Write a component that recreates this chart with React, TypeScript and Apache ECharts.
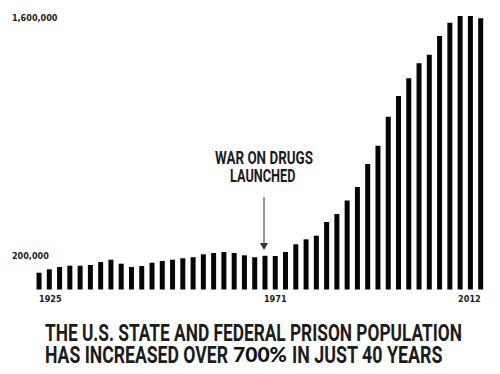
import React, { useEffect, useRef } from "react";
import * as echarts from "echarts";

// ---- data ----
const years: string[] = [
  "1925", "1927", "1929", "1931", "1933", "1935", "1937", "1939", "1941", "1943",
  "1945", "1947", "1949", "1951", "1953", "1955", "1957", "1959", "1961", "1963",
  "1965", "1967", "1969", "1971", "1973", "1975", "1977", "1979", "1981", "1983",
  "1985", "1987", "1989", "1991", "1993", "1995", "1997", "1999", "2001", "2003",
  "2005", "2007", "2009", "2012",
];
const population: number[] = [
  99000, 119000, 132600, 140300, 140300, 144400, 162000, 175600, 152000, 132600,
  138500, 157900, 168000, 175600, 183900, 190300, 207400, 215100, 221000, 215100,
  201500, 190300, 198600, 197400, 221000, 266400, 295800, 317000, 397800, 444900,
  524500, 604000, 739600, 847400, 1018300, 1140300, 1244600, 1333000, 1383700, 1493900,
  1572300, 1611700, 1611700, 1598200,
];
const yTickLabels: number[] = [200000, 1600000];
const xTickLabels: string[] = ["1925", "1971", "2012"];
const titleLine1 = "THE U.S. STATE AND FEDERAL PRISON POPULATION";
const titleLine2a = "HAS INCREASED OVER";
const titleLine2b = "700%";
const titleLine2c = "IN JUST 40 YEARS";
const noteLine1 = "WAR ON DRUGS";
const noteLine2 = "LAUNCHED";

const CONDENSED = "Roboto";
const NARROW = "'Liberation Sans Narrow', 'DejaVu Sans Condensed', 'Roboto Condensed', Roboto, sans-serif";
const INK = "#1c1c1c";

function measure(text: string, font: string): number {
  const c = document.createElement("canvas");
  const ctx = c.getContext("2d")!;
  ctx.font = font;
  return ctx.measureText(text).width;
}

function fitText(
  text: string,
  family: string,
  weight: string,
  size: number,
  left: number,
  right: number,
  cy: number,
  color: string
) {
  const w = measure(text, `${weight} ${size}px ${family}`);
  const sx = w > 0 ? (right - left) / w : 1;
  return {
    type: "text",
    x: left,
    y: cy,
    scaleX: sx,
    style: {
      text,
      fontFamily: family,
      fontWeight: weight,
      fontSize: size,
      fill: color,
      align: "left",
      verticalAlign: "middle",
    },
  };
}

export default function App() {
  const ref = useRef<HTMLDivElement>(null);

  useEffect(() => {
    if (!ref.current) return;
    const chart = echarts.init(ref.current, undefined, { renderer: "svg" });

    const graphic: any[] = [
      fitText(noteLine1, CONDENSED, "bold", 19, 215, 313, 157.5, INK),
      fitText(noteLine2, CONDENSED, "bold", 19, 230, 295.5, 175.5, INK),
      {
        type: "line",
        shape: { x1: 264, y1: 197, x2: 264, y2: 244 },
        style: { stroke: "#333", lineWidth: 1 },
      },
      {
        type: "polygon",
        shape: { points: [[260, 243], [268, 243], [264, 250]] },
        style: { fill: "#333" },
      },
      fitText(titleLine1, CONDENSED, "bold", 24, 45, 462, 333, INK),
      fitText(titleLine2a, CONDENSED, "bold", 24, 45, 228, 354, INK),
      fitText(titleLine2b, "Lato", "900", 21, 233, 287, 354, "#111"),
      fitText(titleLine2c, CONDENSED, "bold", 24, 292, 443, 354, INK),
    ];

    chart.setOption({
      animation: false,
      backgroundColor: "#ffffff",
      grid: { left: 33.9, right: 14.2, top: 9.5, bottom: 84.5, containLabel: false },
      xAxis: {
        type: "category",
        data: years,
        axisLine: { show: false },
        axisTick: { show: false },
        splitLine: { show: false },
        axisLabel: {
          interval: (_i: number, v: string) => xTickLabels.includes(v),
          formatter: (v: string) => (xTickLabels.includes(v) ? v : ""),
          alignMinLabel: "left",
          alignMaxLabel: "right",
          margin: 5,
          fontSize: 9,
          fontWeight: "bold",
          fontFamily: NARROW,
          color: INK,
        },
      },
      yAxis: {
        type: "value",
        min: 0,
        max: 1650000,
        interval: 200000,
        axisLine: { show: false },
        axisTick: { show: false },
        splitLine: { show: false },
        axisLabel: {
          align: "left",
          margin: 22,
          fontSize: 9,
          fontWeight: "bold",
          fontFamily: NARROW,
          color: INK,
          formatter: (v: number) =>
            yTickLabels.includes(v) ? v.toLocaleString("en-US") : "",
        },
      },
      series: [
        {
          type: "bar",
          data: population,
          barWidth: 5,
          itemStyle: { color: "#050505" },
        },
      ],
      graphic,
    });

    return () => chart.dispose();
  }, []);

  return (
    <div
      ref={ref}
      style={{ position: "absolute", left: 0, top: 0, width: 500, height: 374, background: "#fff" }}
    />
  );
}
